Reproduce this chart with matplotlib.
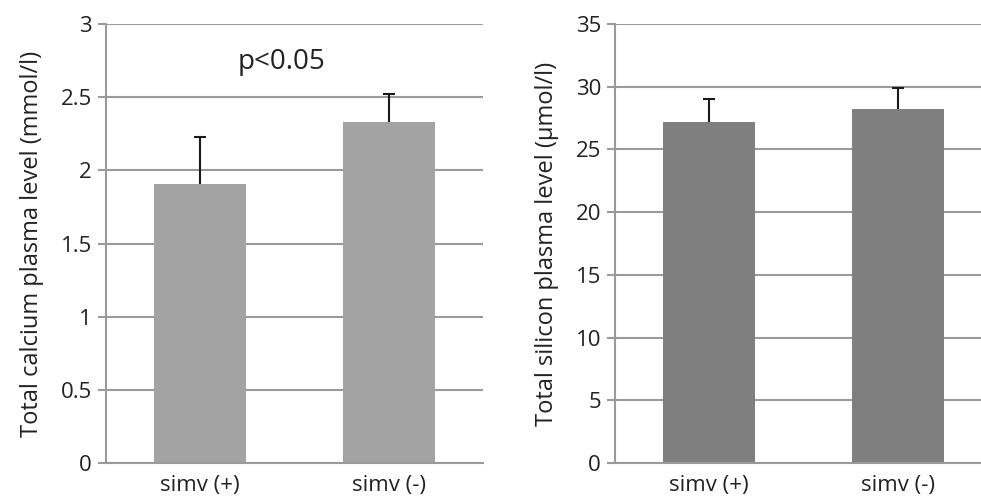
import numpy as np
import matplotlib
matplotlib.use("Agg")
import matplotlib.pyplot as plt

# Data
groups = ["simv (+)", "simv (-)"]
calcium = [1.91, 2.33]
calcium_err = [0.32, 0.19]
silicon = [27.2, 28.2]
silicon_err = [1.8, 1.7]

plt.rcParams['font.family'] = ['Open Sans', 'DejaVu Sans']

fig = plt.figure(figsize=(9.81, 4.96), dpi=100)
ax1 = fig.add_axes([106 / 981, 1 - 463 / 496, 377 / 981, 439 / 496])
ax2 = fig.add_axes([615 / 981, 1 - 463 / 496, 377 / 981, 439 / 496])

x = np.arange(len(groups))
grid_color = '#9a9a9a'
text_color = '#222222'


def style(ax, top, step, label):
    ax.set_xlim(-0.5, 1.5)
    ax.set_ylim(0, top)
    ax.set_yticks(np.arange(0, top + step / 2, step))
    ax.yaxis.grid(True, color=grid_color, linewidth=1.5)
    ax.set_axisbelow(True)
    for s in ['top', 'right']:
        ax.spines[s].set_visible(False)
    for s in ['left', 'bottom']:
        ax.spines[s].set_color(grid_color)
        ax.spines[s].set_linewidth(1.5)
    ax.tick_params(axis='y', colors=grid_color, length=6, width=1.5,
                   labelcolor=text_color, labelsize=16, pad=4)
    ax.tick_params(axis='x', length=0, labelcolor=text_color, labelsize=16, pad=9)
    ax.set_xticks(x)
    ax.set_xticklabels(groups)
    ax.set_ylabel(label, fontsize=17, color=text_color, labelpad=12)


def upper_err(ax, vals, errs):
    # one-sided (upper) error bars with a cap, as in the original
    tops = np.array(vals) + np.array(errs)
    ax.vlines(x, vals, tops, color='#1a1a1a', linewidth=1.5, zorder=3)
    ax.hlines(tops, x - 0.032, x + 0.032, color='#1a1a1a', linewidth=1.5, zorder=3)


ax1.bar(x, calcium, width=0.49, color='#a3a3a3', zorder=2)
upper_err(ax1, calcium, calcium_err)
style(ax1, 3, 0.5, 'Total calcium plasma level (mmol/l)')
ax1.set_yticklabels(['0', '0.5', '1', '1.5', '2', '2.5', '3'])
ax1.text(0.43, 2.74, 'p<0.05', ha='center', va='center', fontsize=20, color=text_color)

ax2.bar(x, silicon, width=0.49, color='#7f7f7f', zorder=2)
upper_err(ax2, silicon, silicon_err)
style(ax2, 35, 5, 'Total silicon plasma level (µmol/l)')

fig.savefig('out.png', dpi=100)
